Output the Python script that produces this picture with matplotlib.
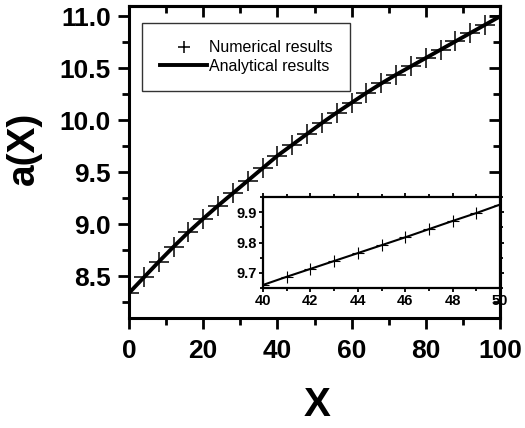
import numpy as np
import matplotlib
matplotlib.use('Agg')
import matplotlib.pyplot as plt
from matplotlib.ticker import MultipleLocator

plt.rcParams['font.family'] = ['Liberation Sans', 'DejaVu Sans']

# main curve, sampled every 4 units of X
x_main = [0, 4, 8, 12, 16, 20, 24, 28, 32, 36, 40, 44, 48, 52, 56, 60,
          64, 68, 72, 76, 80, 84, 88, 92, 96, 100]
a_main = [8.34, 8.49, 8.64, 8.785, 8.925, 9.055, 9.18, 9.30, 9.42, 9.54,
          9.66, 9.765, 9.87, 9.975, 10.075, 10.17, 10.265, 10.355, 10.44,
          10.52, 10.60, 10.68, 10.76, 10.84, 10.92, 11.00]

# zoomed region 40..50
x_zoom = [40, 41, 42, 43, 44, 45, 46, 47, 48, 49, 50]
a_zoom = [9.66, 9.687, 9.713, 9.739, 9.765, 9.791, 9.817, 9.844, 9.871,
          9.897, 9.925]

fig = plt.figure(figsize=(5.25, 4.28), dpi=100)
ax = fig.add_axes([129 / 525, 110 / 428, 371 / 525, 312 / 428])

ax.plot(x_main, a_main, color='black', lw=2.8, label='Analytical results', zorder=2)
ax.plot(x_main, a_main, ls='none', marker='+', ms=15, mew=1.1, color='black',
        label='Numerical results', zorder=3)

ax.set_xlim(0, 100)
ax.set_ylim(8.1, 11.1)
ax.xaxis.set_major_locator(MultipleLocator(20))
ax.xaxis.set_minor_locator(MultipleLocator(10))
ax.set_yticks([8.5, 9.0, 9.5, 10.0, 10.5, 11.0])
ax.yaxis.set_minor_locator(MultipleLocator(0.25))

for s in ax.spines.values():
    s.set_linewidth(2.2)
ax.tick_params(which='both', direction='out', width=2)
ax.tick_params(which='major', length=8, labelsize=19, pad=5)
ax.tick_params(which='minor', length=5)
ax.tick_params(axis='x', which='major', pad=7)
for lab in ax.get_xticklabels() + ax.get_yticklabels():
    lab.set_fontweight('bold')

# mirrored ticks on top and right, pointing inward
top = ax.secondary_xaxis('top')
top.xaxis.set_major_locator(MultipleLocator(20))
top.xaxis.set_minor_locator(MultipleLocator(10))
top.tick_params(which='both', direction='in', width=2, labeltop=False)
top.tick_params(which='major', length=8)
top.tick_params(which='minor', length=5)
top.spines['top'].set_linewidth(2.2)

right = ax.secondary_yaxis('right')
right.set_yticks([8.5, 9.0, 9.5, 10.0, 10.5, 11.0])
right.yaxis.set_minor_locator(MultipleLocator(0.25))
right.tick_params(which='both', direction='in', width=2, labelright=False)
right.tick_params(which='major', length=8)
right.tick_params(which='minor', length=5)
right.spines['right'].set_linewidth(2.2)

ax.set_xlabel('X', fontsize=29, fontweight='bold', va='center')
ax.xaxis.set_label_coords(0.507, -0.279)
ax.set_ylabel('a(X)', fontsize=28, fontweight='bold', va='center')
ax.yaxis.set_label_coords(-0.283, 0.545)

handles, labels = ax.get_legend_handles_labels()
leg = ax.legend(handles[::-1], labels[::-1], loc='upper left',
                bbox_to_anchor=(0.035, 0.946), borderaxespad=0,
                fontsize=11.5, frameon=True, fancybox=False, edgecolor='black',
                handlelength=3.0, handletextpad=0.1, borderpad=1.1,
                labelspacing=0.2, markerscale=0.55)
leg.get_frame().set_linewidth(1.0)

# inset
axi = fig.add_axes([263 / 525, 1 - 288 / 428, 237 / 525, 91 / 428])
axi.plot(x_zoom, a_zoom, color='black', lw=1.5)
axi.plot(x_zoom, a_zoom, ls='none', marker='+', ms=8, mew=0.8, color='black')
axi.set_xlim(40, 50)
axi.set_ylim(9.65, 9.95)
axi.xaxis.set_major_locator(MultipleLocator(2))
axi.xaxis.set_minor_locator(MultipleLocator(1))
axi.set_yticks([9.7, 9.8, 9.9])
axi.yaxis.set_minor_locator(MultipleLocator(0.05))
for s in axi.spines.values():
    s.set_linewidth(1.6)
axi.tick_params(which='both', direction='out', width=1.3, top=True, right=True)
axi.tick_params(which='major', length=3, labelsize=10.5, pad=1.5)
axi.tick_params(which='minor', length=2)
for lab in axi.get_xticklabels() + axi.get_yticklabels():
    lab.set_fontweight('bold')

fig.savefig('out.png', dpi=100)
